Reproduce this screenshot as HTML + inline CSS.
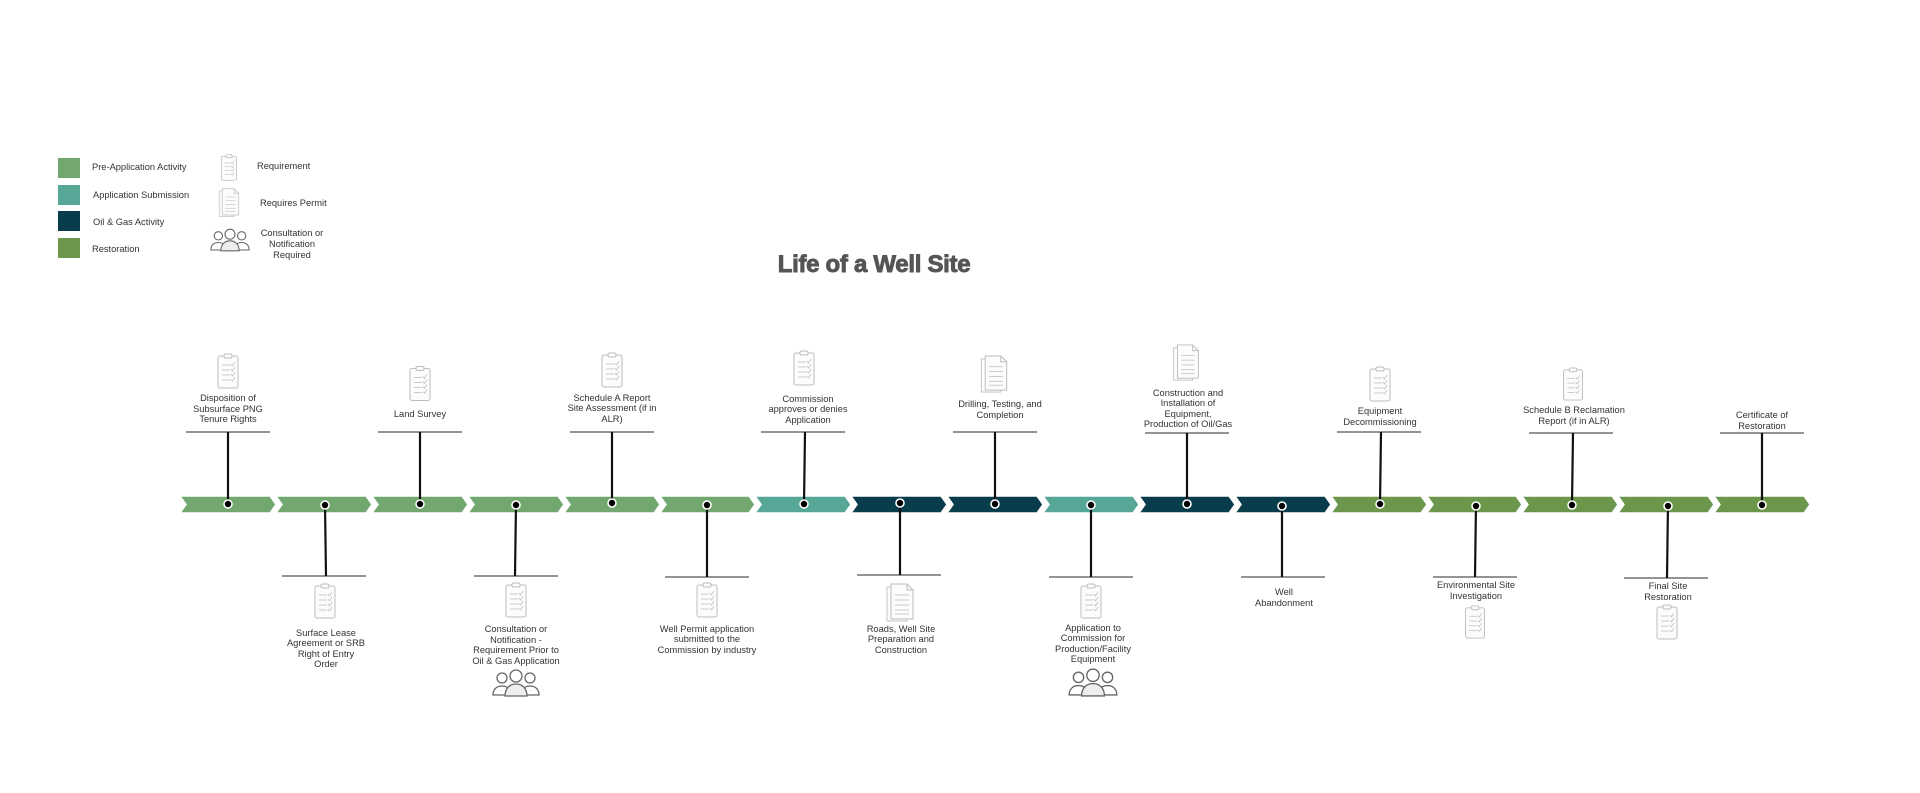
<!DOCTYPE html>
<html><head><meta charset="utf-8"><style>
html,body{margin:0;padding:0;background:#fff;}
svg{display:block;}
text{font-family:"Liberation Sans",sans-serif;font-size:9.3px;fill:#333;}
</style></head><body>
<svg width="1920" height="793" viewBox="0 0 1920 793" xmlns="http://www.w3.org/2000/svg">
<defs>
<symbol id="clip" viewBox="0 0 22 36">
<rect x="1" y="3" width="20" height="32" rx="2" fill="#fcfcfc" stroke="#bdbdbd" stroke-width="1"/>
<rect x="7" y="1" width="8" height="4" rx="1.5" fill="#fcfcfc" stroke="#bdbdbd" stroke-width="1"/>
<g stroke="#c4c4c4" stroke-width="0.9" fill="none">
<line x1="5" y1="12" x2="13" y2="12"/><line x1="5" y1="17" x2="13" y2="17"/><line x1="5" y1="22" x2="13" y2="22"/><line x1="5" y1="27" x2="13" y2="27"/>
<path d="M14 11l1.5 2 2.5-4M14 16l1.5 2 2.5-4M14 21l1.5 2 2.5-4M14 26l1.5 2 2.5-4"/>
</g>
</symbol>
<symbol id="permit" viewBox="0 0 28 40">
<rect x="1" y="4" width="20" height="34" fill="#fcfcfc" stroke="#c4c4c4" stroke-width="1"/>
<path d="M5 1H21L27 7V36H5Z" fill="#fcfcfc" stroke="#bdbdbd" stroke-width="1"/>
<path d="M21 1V7H27" fill="none" stroke="#bdbdbd" stroke-width="1"/>
<g stroke="#c4c4c4" stroke-width="0.9"><line x1="9" y1="12" x2="23" y2="12"/><line x1="9" y1="17" x2="23" y2="17"/><line x1="9" y1="22" x2="23" y2="22"/><line x1="9" y1="27" x2="23" y2="27"/><line x1="9" y1="31" x2="23" y2="31"/></g>
</symbol>
<symbol id="people" viewBox="0 0 48 28">
<g fill="#fff" stroke="#666" stroke-width="1.3">
<circle cx="10" cy="9" r="5"/><path d="M1 26c0-6 4-9 9-9s9 3 9 9z"/>
<circle cx="38" cy="9" r="5"/><path d="M29 26c0-6 4-9 9-9s9 3 9 9z"/>
<circle cx="24" cy="7" r="6"/><path d="M13 27c0-8 5-12 11-12s11 4 11 12z" fill="#eee"/>
</g>
</symbol>
</defs>

<!-- Legend -->
<rect x="58" y="158" width="22" height="20" fill="#72a870"/>
<rect x="58" y="185" width="22" height="20" fill="#56a797"/>
<rect x="58" y="211" width="22" height="20" fill="#0a3d4c"/>
<rect x="58" y="238" width="22" height="20" fill="#6b964b"/>
<text x="92" y="170">Pre-Application Activity</text>
<text x="93" y="198">Application Submission</text>
<text x="93" y="225">Oil &amp; Gas Activity</text>
<text x="92" y="252">Restoration</text>
<use href="#clip" x="218" y="154" width="22" height="27"/>
<text x="257" y="169">Requirement</text>
<use href="#permit" x="216" y="188" width="26" height="30"/>
<text x="260" y="206">Requires Permit</text>
<use href="#people" x="210" y="228" width="40" height="24"/>
<text x="292" y="236" text-anchor="middle">Consultation or</text>
<text x="292" y="247" text-anchor="middle">Notification</text>
<text x="292" y="258" text-anchor="middle">Required</text>

<!-- Title -->
<text x="874" y="272" text-anchor="middle" style="font-size:24px;font-weight:bold;fill:#555;letter-spacing:-0.3px;stroke:#555;stroke-width:0.9px">Life of a Well Site</text>

<!-- Chevrons -->
<g stroke="#fff" stroke-width="1.5">
<polygon points="180,496 270,496 276,504.5 270,513 180,513 186,504.5" fill="#72a870"/>
<polygon points="276,496 366,496 372,504.5 366,513 276,513 282,504.5" fill="#72a870"/>
<polygon points="372,496 462,496 468,504.5 462,513 372,513 378,504.5" fill="#72a870"/>
<polygon points="468,496 558,496 564,504.5 558,513 468,513 474,504.5" fill="#72a870"/>
<polygon points="564,496 654,496 660,504.5 654,513 564,513 570,504.5" fill="#72a870"/>
<polygon points="660,496 749,496 755,504.5 749,513 660,513 666,504.5" fill="#72a870"/>
<polygon points="755,496 845,496 851,504.5 845,513 755,513 761,504.5" fill="#56a797"/>
<polygon points="851,496 941,496 947,504.5 941,513 851,513 857,504.5" fill="#0a3d4c"/>
<polygon points="947,496 1037,496 1043,504.5 1037,513 947,513 953,504.5" fill="#0a3d4c"/>
<polygon points="1043,496 1133,496 1139,504.5 1133,513 1043,513 1049,504.5" fill="#56a797"/>
<polygon points="1139,496 1229,496 1235,504.5 1229,513 1139,513 1145,504.5" fill="#0a3d4c"/>
<polygon points="1235,496 1325,496 1331,504.5 1325,513 1235,513 1241,504.5" fill="#0a3d4c"/>
<polygon points="1331,496 1421,496 1427,504.5 1421,513 1331,513 1337,504.5" fill="#6b964b"/>
<polygon points="1427,496 1516,496 1522,504.5 1516,513 1427,513 1433,504.5" fill="#6b964b"/>
<polygon points="1522,496 1612,496 1618,504.5 1612,513 1522,513 1528,504.5" fill="#6b964b"/>
<polygon points="1618,496 1708,496 1714,504.5 1708,513 1618,513 1624,504.5" fill="#6b964b"/>
<polygon points="1714,496 1804,496 1810,504.5 1804,513 1714,513 1720,504.5" fill="#6b964b"/>
</g>

<!-- Horizontal label lines -->
<g stroke="#555" stroke-width="1.3">
<line x1="186" y1="432" x2="270" y2="432"/>
<line x1="378" y1="432" x2="462" y2="432"/>
<line x1="570" y1="432" x2="654" y2="432"/>
<line x1="761" y1="432" x2="845" y2="432"/>
<line x1="953" y1="432" x2="1037" y2="432"/>
<line x1="1145" y1="433" x2="1229" y2="433"/>
<line x1="1337" y1="432" x2="1421" y2="432"/>
<line x1="1529" y1="433" x2="1613" y2="433"/>
<line x1="1720" y1="433" x2="1804" y2="433"/>
<line x1="282" y1="576" x2="366" y2="576"/>
<line x1="474" y1="576" x2="558" y2="576"/>
<line x1="665" y1="577" x2="749" y2="577"/>
<line x1="857" y1="575" x2="941" y2="575"/>
<line x1="1049" y1="577" x2="1133" y2="577"/>
<line x1="1241" y1="577" x2="1325" y2="577"/>
<line x1="1433" y1="577" x2="1517" y2="577"/>
<line x1="1624" y1="578" x2="1708" y2="578"/>
</g>

<!-- Stems -->
<g stroke="#111" stroke-width="2.2">
<line x1="228" y1="432" x2="228" y2="504"/>
<line x1="420" y1="432" x2="420" y2="504"/>
<line x1="612" y1="432" x2="612" y2="504"/>
<line x1="805" y1="432" x2="804" y2="504"/>
<line x1="995" y1="432" x2="995" y2="504"/>
<line x1="1187" y1="433" x2="1187" y2="504"/>
<line x1="1381" y1="432" x2="1380" y2="504"/>
<line x1="1573" y1="433" x2="1572" y2="504"/>
<line x1="1762" y1="433" x2="1762" y2="504"/>
<line x1="325" y1="504" x2="326" y2="576"/>
<line x1="516" y1="504" x2="515" y2="576"/>
<line x1="707" y1="504" x2="707" y2="577"/>
<line x1="900" y1="504" x2="900" y2="575"/>
<line x1="1091" y1="504" x2="1091" y2="577"/>
<line x1="1282" y1="504" x2="1282" y2="577"/>
<line x1="1476" y1="504" x2="1475" y2="577"/>
<line x1="1668" y1="504" x2="1667" y2="578"/>
</g>

<!-- Dots -->
<g fill="#000" stroke="#fff" stroke-width="1.6">
<circle cx="228" cy="504" r="4"/><circle cx="325" cy="505" r="4"/><circle cx="420" cy="504" r="4"/><circle cx="516" cy="505" r="4"/>
<circle cx="612" cy="503" r="4"/><circle cx="707" cy="505" r="4"/><circle cx="804" cy="504" r="4"/><circle cx="900" cy="503" r="4"/>
<circle cx="995" cy="504" r="4"/><circle cx="1091" cy="505" r="4"/><circle cx="1187" cy="504" r="4"/><circle cx="1282" cy="506" r="4"/>
<circle cx="1380" cy="504" r="4"/><circle cx="1476" cy="506" r="4"/><circle cx="1572" cy="505" r="4"/><circle cx="1668" cy="506" r="4"/><circle cx="1762" cy="505" r="4"/>
</g>

<!-- Top items -->
<use href="#clip" x="217" y="353" width="22" height="36"/>
<g text-anchor="middle">
<text x="228" y="401">Disposition of</text><text x="228" y="412">Subsurface PNG</text><text x="228" y="422">Tenure Rights</text>
</g>
<use href="#clip" x="409" y="365" width="22" height="37"/>
<text x="420" y="417" text-anchor="middle">Land Survey</text>
<use href="#clip" x="601" y="352" width="22" height="36"/>
<g text-anchor="middle">
<text x="612" y="401">Schedule A Report</text><text x="612" y="411">Site Assessment (if in</text><text x="612" y="422">ALR)</text>
</g>
<use href="#clip" x="793" y="350" width="22" height="36"/>
<g text-anchor="middle">
<text x="808" y="402">Commission</text><text x="808" y="412">approves or denies</text><text x="808" y="423">Application</text>
</g>
<use href="#permit" x="980" y="355" width="28" height="39"/>
<g text-anchor="middle">
<text x="1000" y="407">Drilling, Testing, and</text><text x="1000" y="418">Completion</text>
</g>
<use href="#permit" x="1170" y="344" width="32" height="38"/>
<g text-anchor="middle">
<text x="1188" y="396">Construction and</text><text x="1188" y="406">Installation of</text><text x="1188" y="417">Equipment,</text><text x="1188" y="427">Production of Oil/Gas</text>
</g>
<use href="#clip" x="1368" y="366" width="24" height="36"/>
<g text-anchor="middle">
<text x="1380" y="414">Equipment</text><text x="1380" y="425">Decommissioning</text>
</g>
<use href="#clip" x="1561" y="367" width="24" height="34"/>
<g text-anchor="middle">
<text x="1574" y="413">Schedule B Reclamation</text><text x="1574" y="424">Report (if in ALR)</text>
</g>
<g text-anchor="middle">
<text x="1762" y="418">Certificate of</text><text x="1762" y="429">Restoration</text>
</g>

<!-- Bottom items -->
<use href="#clip" x="314" y="583" width="22" height="36"/>
<g text-anchor="middle">
<text x="326" y="636">Surface Lease</text><text x="326" y="646">Agreement or SRB</text><text x="326" y="657">Right of Entry</text><text x="326" y="667">Order</text>
</g>
<use href="#clip" x="505" y="582" width="22" height="36"/>
<g text-anchor="middle">
<text x="516" y="632">Consultation or</text><text x="516" y="643">Notification -</text><text x="516" y="653">Requirement Prior to</text><text x="516" y="664">Oil &amp; Gas Application</text>
</g>
<use href="#people" x="491" y="669" width="50" height="28"/>
<use href="#clip" x="696" y="582" width="22" height="36"/>
<g text-anchor="middle">
<text x="707" y="632">Well Permit application</text><text x="707" y="642">submitted to the</text><text x="707" y="653">Commission by industry</text>
</g>
<use href="#permit" x="884" y="583" width="32" height="40"/>
<g text-anchor="middle">
<text x="901" y="632">Roads, Well Site</text><text x="901" y="642">Preparation and</text><text x="901" y="653">Construction</text>
</g>
<use href="#clip" x="1078" y="583" width="26" height="36"/>
<g text-anchor="middle">
<text x="1093" y="631">Application to</text><text x="1093" y="641">Commission for</text><text x="1093" y="652">Production/Facility</text><text x="1093" y="662">Equipment</text>
</g>
<use href="#people" x="1067" y="668" width="52" height="29"/>
<g text-anchor="middle">
<text x="1284" y="595">Well</text><text x="1284" y="606">Abandonment</text>
</g>
<g text-anchor="middle">
<text x="1476" y="588">Environmental Site</text><text x="1476" y="599">Investigation</text>
</g>
<use href="#clip" x="1462" y="605" width="26" height="34"/>
<g text-anchor="middle">
<text x="1668" y="589">Final Site</text><text x="1668" y="600">Restoration</text>
</g>
<use href="#clip" x="1654" y="604" width="26" height="36"/>
</svg>
</body></html>
